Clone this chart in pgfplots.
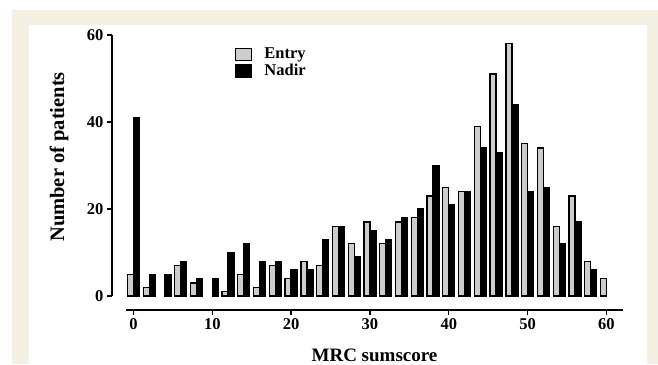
\documentclass[border=0pt]{standalone}
\usepackage{pgfplots}
\pgfplotsset{compat=1.18}
\usepackage{fontspec}
\setmainfont{Liberation Serif}
\definecolor{beige}{RGB}{244,241,228}
\definecolor{entryc}{RGB}{205,205,205}
\begin{document}
\begin{tikzpicture}
\path[use as bounding box] (0pt,0pt) rectangle (658pt,364pt);
\fill[white] (0pt,0pt) rectangle (658pt,364pt);
\fill[beige] (12pt,0pt) rectangle (658pt,354pt);
\fill[white] (29pt,0pt) rectangle (647pt,339pt);
\begin{axis}[
  at={(126pt,68pt)}, anchor=south west,
  width=497pt, height=261pt, scale only axis,
  xmin=-0.95, xmax=62.1, ymin=0, ymax=60,
  axis x line=bottom, axis y line=left,
  axis x line shift=14pt, axis y line shift=14pt,
  axis line style={-, line width=1.3pt, black},
  tick align=outside, major tick length=5pt,
  tick style={line width=1.3pt, black},
  xtick={0,10,...,60}, ytick={0,20,40,60},
  minor tick num=0,
  /pgf/number format/assume math mode=true,
  tick label style={font=\fontsize{16.5}{18}\selectfont\bfseries},
  xlabel={MRC sumscore},
  xlabel style={at={(rel axis cs:0.5,0)}, anchor=base, yshift=-65pt, font=\fontsize{19}{22}\selectfont\bfseries},
  ylabel={Number of patients},
  ylabel style={at={(rel axis cs:0,0.533)}, anchor=center, yshift=67pt, font=\fontsize{20.5}{23}\selectfont\bfseries},
  ybar=0pt, bar width=6pt,
  clip=false,
  legend style={at={(rel axis cs:0.219,0.958)}, anchor=north west, draw=none, fill=none,
    font=\fontsize{16.5}{18}\selectfont\bfseries, row sep=0pt, inner sep=0pt},
  legend cell align=left,
]
\addplot[draw=black, fill=entryc, line width=1.3pt,
  legend image code/.code={\draw[draw=black, fill=entryc, line width=1.4pt] (0pt,-6pt) rectangle (16pt,6pt);}]
coordinates {(0,5) (2,2) (6,7) (8,3) (12,1) (14,5) (16,2) (18,7) (20,4) (22,8) (24,7) (26,16) (28,12) (30,17) (32,12) (34,17) (36,18) (38,23) (40,25) (42,24) (44,39) (46,51) (48,58) (50,35) (52,34) (54,16) (56,23) (58,8) (60,4)};
\addlegendentry{\hspace*{10pt}Entry}
\addplot[draw=black, fill=black, line width=1.3pt,
  legend image code/.code={\draw[draw=black, fill=black, line width=1.4pt] (0pt,-6pt) rectangle (16pt,6pt);}]
coordinates {(0,41) (2,5) (4,5) (6,8) (8,4) (10,4) (12,10) (14,12) (16,8) (18,8) (20,6) (22,6) (24,13) (26,16) (28,9) (30,15) (32,13) (34,18) (36,20) (38,30) (40,21) (42,24) (44,34) (46,33) (48,44) (50,24) (52,25) (54,12) (56,17) (58,6)};
\addlegendentry{\hspace*{10pt}Nadir}
\end{axis}
\end{tikzpicture}
\end{document}
